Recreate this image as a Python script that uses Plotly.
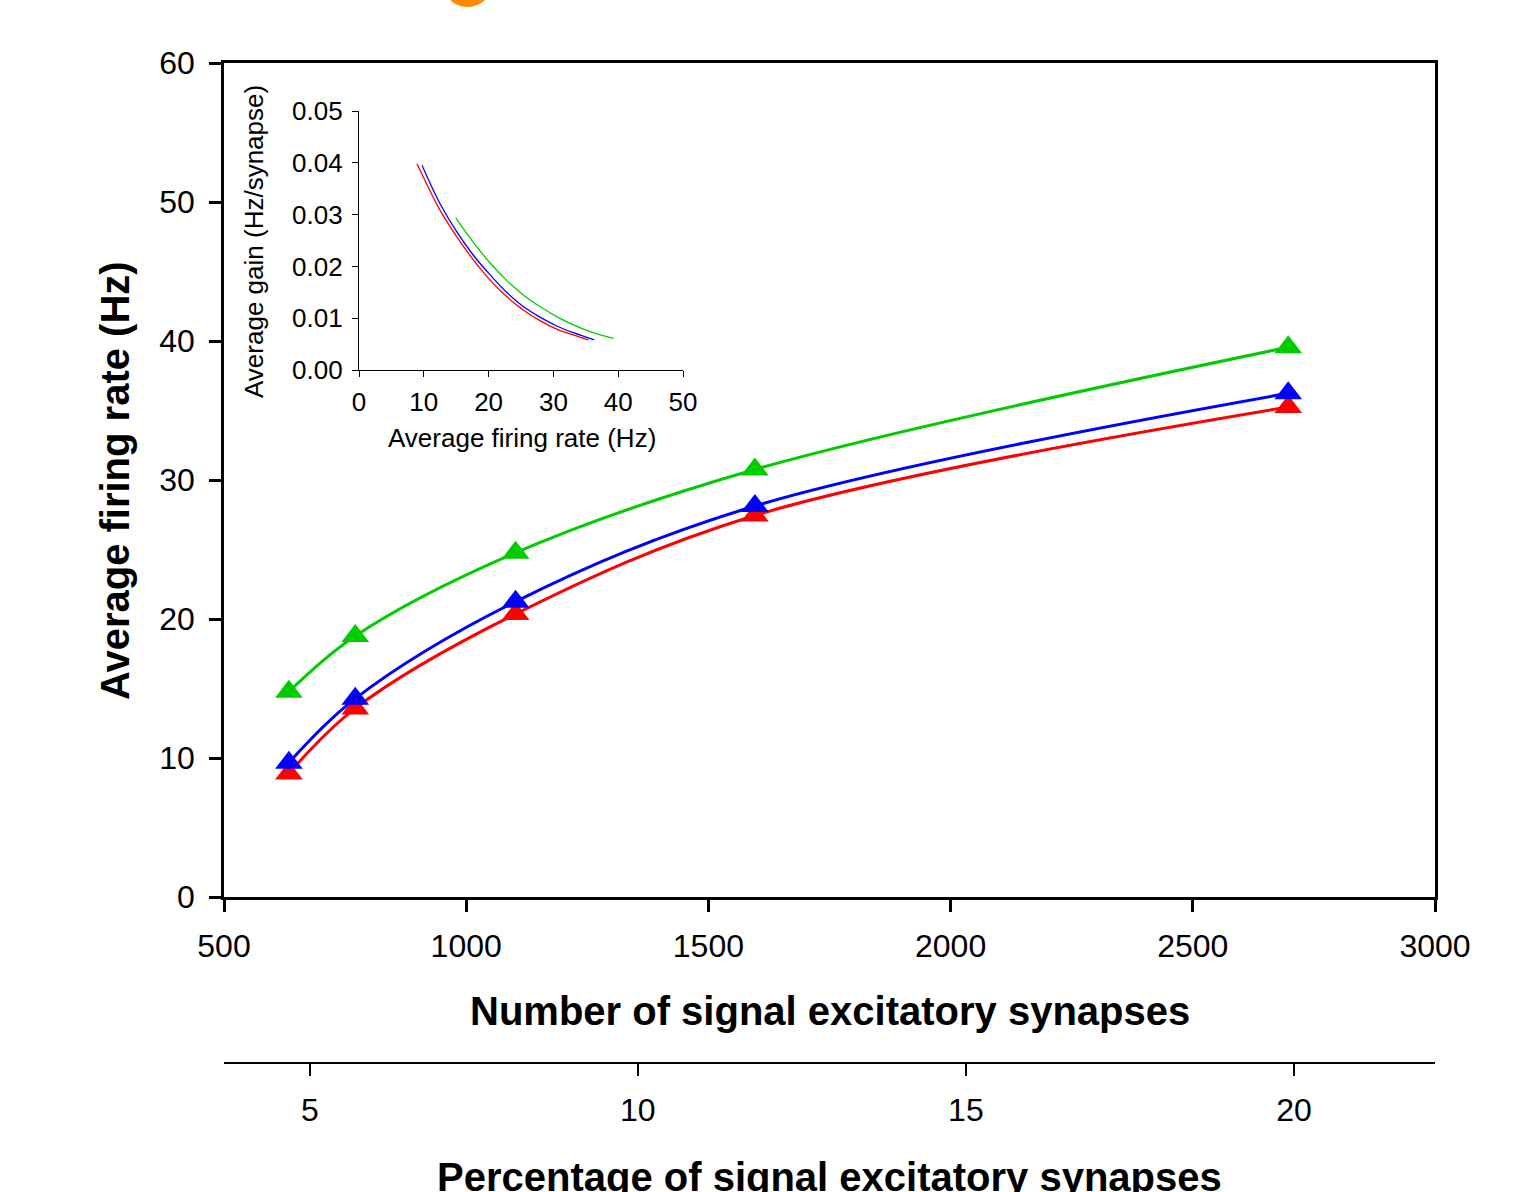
import plotly.graph_objects as go

# ---------------- data ----------------
synapses = [634, 771, 1102, 1596, 2697]          # number of signal excitatory synapses
rate_green = [14.77, 18.78, 24.77, 30.76, 39.55]  # average firing rate (Hz)
rate_blue = [9.66, 14.27, 21.25, 28.13, 36.24]
rate_red = [8.89, 13.57, 20.36, 27.45, 35.25]

TOTAL_SYNAPSES = 13544  # percentage axis reference

# inset: average gain vs average firing rate
inset_red_x = [8.96, 12.47, 15.05, 17.62, 20.2, 22.78, 25.35, 27.93, 30.51, 33.08, 35.4]
inset_red_y = [0.0398, 0.0309, 0.0258, 0.0213, 0.0174, 0.01418, 0.0116, 0.00954, 0.0079, 0.00677, 0.0058]
inset_blue_x = [9.74, 12.47, 15.05, 17.62, 20.2, 22.78, 25.35, 27.93, 30.51, 33.08, 36.3]
inset_blue_y = [0.0395, 0.0322, 0.02675, 0.0222, 0.0184, 0.0150, 0.01225, 0.0102, 0.0085, 0.0072, 0.0058]
inset_green_x = [14.95, 17.62, 20.2, 22.78, 25.35, 27.93, 30.51, 33.08, 35.66, 39.26]
inset_green_y = [0.02934, 0.0247, 0.0207, 0.0173, 0.0145, 0.01225, 0.0103, 0.0087, 0.0074, 0.0061]

main_xticks = [500, 1000, 1500, 2000, 2500, 3000]
main_yticks = [0, 10, 20, 30, 40, 50, 60]
pct_ticks = [5, 10, 15, 20]
inset_xticks = [0, 10, 20, 30, 40, 50]
inset_yticks = [0.00, 0.01, 0.02, 0.03, 0.04, 0.05]

GREEN = "#00CC00"
BLUE = "#0000FF"
RED = "#FF0000"
FONT = "Liberation Sans, Arial, sans-serif"

# ---------------- layout geometry ----------------
W, H = 1516, 1192
L, R, T, B = 224, 1435, 63, 1063   # plot region (paper) in px
MAIN_BOTTOM = 897
INSET = dict(x0=359, x1=683, y0=111, y1=370)


def px_x(p):
    return (p - L) / (R - L)


def px_y(p):
    return (B - p) / (B - T)


fig = go.Figure()

# main curves (red, blue, green) with triangle markers
for ys, col in [(rate_red, RED), (rate_blue, BLUE), (rate_green, GREEN)]:
    fig.add_trace(go.Scatter(
        x=synapses, y=ys, mode="lines",
        line=dict(color=col, width=3, shape="spline", smoothing=1.0),
        xaxis="x", yaxis="y", showlegend=False, hoverinfo="skip"))
for ys, col in [(rate_red, RED), (rate_blue, BLUE), (rate_green, GREEN)]:
    fig.add_trace(go.Scatter(
        x=synapses, y=ys, mode="markers",
        marker=dict(symbol="triangle-up", size=24, color=col, line=dict(width=0)),
        xaxis="x", yaxis="y", showlegend=False, hoverinfo="skip"))

# dummy trace to hold percentage axis
fig.add_trace(go.Scatter(
    x=[pct_ticks[0], pct_ticks[-1]], y=[-100, -100], mode="lines",
    line=dict(width=0), xaxis="x2", yaxis="y", showlegend=False, hoverinfo="skip"))

# inset curves
for xs, ys, col in [(inset_red_x, inset_red_y, RED),
                    (inset_blue_x, inset_blue_y, BLUE),
                    (inset_green_x, inset_green_y, GREEN)]:
    fig.add_trace(go.Scatter(
        x=xs, y=ys, mode="lines",
        line=dict(color=col, width=1.3, shape="spline", smoothing=1.0),
        xaxis="x3", yaxis="y3", showlegend=False, hoverinfo="skip"))

tickfont_main = dict(family=FONT, size=32, color="black")
tickfont_inset = dict(family=FONT, size=26, color="black")

fig.update_layout(
    width=W, height=H,
    margin=dict(l=L, r=W - R, t=T, b=H - B, pad=0),
    paper_bgcolor="white", plot_bgcolor="rgba(0,0,0,0)",
    showlegend=False,
    xaxis=dict(
        domain=[0, 1], range=[500, 3000], tickvals=main_xticks,
        showline=True, linecolor="black", linewidth=2.5, mirror=True,
        ticks="outside", ticklen=12, tickwidth=2.5, tickcolor="black",
        ticklabelstandoff=7,
        showgrid=False, zeroline=False, tickfont=tickfont_main,
        anchor="y"),
    yaxis=dict(
        domain=[px_y(MAIN_BOTTOM), 1], range=[0, 60], tickvals=main_yticks,
        showline=True, linecolor="black", linewidth=2.5, mirror=True,
        ticks="outside", ticklen=12, tickwidth=2.5, tickcolor="black",
        ticklabelstandoff=8,
        showgrid=False, zeroline=False, tickfont=tickfont_main,
        anchor="x"),
    xaxis2=dict(
        overlaying="x", anchor="free", position=0, side="bottom",
        range=[500 / TOTAL_SYNAPSES * 100, 3000 / TOTAL_SYNAPSES * 100],
        tickvals=pct_ticks,
        showline=True, linecolor="black", linewidth=2, mirror=False,
        ticks="outside", ticklen=12, tickwidth=2, tickcolor="black",
        ticklabelstandoff=7,
        showgrid=False, zeroline=False, tickfont=tickfont_main),
    xaxis3=dict(
        domain=[px_x(INSET["x0"]), px_x(INSET["x1"])], range=[0, 50],
        tickvals=inset_xticks, anchor="y3",
        showline=True, linecolor="black", linewidth=1.2, mirror=False,
        ticks="outside", ticklen=6, tickwidth=1.2, tickcolor="black",
        ticklabelstandoff=3,
        showgrid=False, zeroline=False, tickfont=tickfont_inset),
    yaxis3=dict(
        domain=[px_y(INSET["y1"]), px_y(INSET["y0"])], range=[0, 0.05],
        tickvals=inset_yticks, tickformat=".2f", anchor="x3",
        showline=True, linecolor="black", linewidth=1.2, mirror=False,
        ticks="outside", ticklen=6, tickwidth=1.2, tickcolor="black",
        ticklabelstandoff=4,
        showgrid=False, zeroline=False, tickfont=tickfont_inset),
)

title_font = dict(family=FONT, size=40, color="black")
inset_title_font = dict(family=FONT, size=26, color="black")

annotations = [
    dict(text="<b>Number of signal excitatory synapses</b>", x=0.5, y=px_y(1011),
         xref="paper", yref="paper", showarrow=False, font=title_font,
         xanchor="center", yanchor="middle"),
    dict(text="<b>Percentage of signal excitatory synapses</b>", x=0.5, y=px_y(1177),
         xref="paper", yref="paper", showarrow=False, font=title_font,
         xanchor="center", yanchor="middle"),
    dict(text="<b>Average firing rate (Hz)</b>", x=px_x(115), y=px_y(481),
         xref="paper", yref="paper", showarrow=False, font=title_font,
         textangle=-90, xanchor="center", yanchor="middle"),
    dict(text="Average firing rate (Hz)", x=px_x(522), y=px_y(438),
         xref="paper", yref="paper", showarrow=False, font=inset_title_font,
         xanchor="center", yanchor="middle"),
    dict(text="Average gain (Hz/synapse)", x=px_x(254), y=px_y(242),
         xref="paper", yref="paper", showarrow=False, font=inset_title_font,
         textangle=-90, xanchor="center", yanchor="middle"),
]
fig.update_layout(annotations=annotations)

# partially visible orange badge at the top edge
fig.add_shape(type="circle", xref="paper", yref="paper",
              x0=px_x(442), x1=px_x(493), y0=px_y(7), y1=px_y(-44),
              fillcolor="#FF8800", line=dict(width=0), layer="above")

fig.write_html("out.html")
